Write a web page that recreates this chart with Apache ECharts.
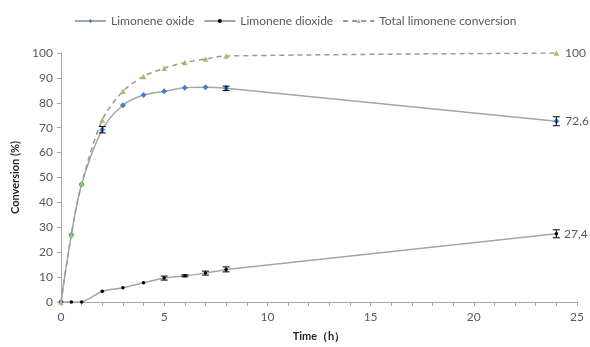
<!DOCTYPE html>
<html><head><meta charset="utf-8">
<script src="https://cdn.jsdelivr.net/npm/echarts@6/dist/echarts.min.js"></script>
<style>html,body{margin:0;padding:0;background:#fff}#c{width:590px;height:347px}</style>
</head><body><div id="c"></div>
<script>
const times = [0, 0.5, 1, 2, 3, 4, 5, 6, 7, 8, 24];
const oxide = [0, 27, 47.3, 69.2, 79, 83.1, 84.6, 86, 86.2, 85.8, 72.6];
const oxideErr = [0, 0, 0, 1.3, 0, 0, 0, 0, 0, 0.9, 1.8];
const dioxide = [0, 0, 0, 4.3, 5.7, 7.7, 9.6, 10.5, 11.6, 13.1, 27.4];
const dioxideErr = [0, 0, 0, 0, 0, 0, 0.8, 0.4, 0.8, 1.0, 1.6];
const total = [0, 27, 47.5, 73.1, 84.6, 90.6, 93.9, 96.2, 97.6, 98.8, 100];
const endLabels = ['72,6', '27,4', '100'];
const xTicks = [0, 5, 10, 15, 20, 25];
const yTicks = [0, 10, 20, 30, 40, 50, 60, 70, 80, 90, 100];

const pair = (ys) => times.map((t, i) => [t, ys[i]]);
const errData = (ys, es) => times.map((t, i) => [t, ys[i], es[i]]).filter(d => d[2] > 0);

function errSeries(ys, es) {
  return {
    type: 'custom', silent: true, z: 5,
    data: errData(ys, es),
    renderItem: function (params, api) {
      const x = api.value(0), y = api.value(1), e = api.value(2);
      const lo = api.coord([x, y - e]), hi = api.coord([x, y + e]);
      const w = 3.5;
      const st = { stroke: '#000', lineWidth: 1 };
      return { type: 'group', children: [
        { type: 'line', shape: { x1: lo[0], y1: lo[1], x2: hi[0], y2: hi[1] }, style: st },
        { type: 'line', shape: { x1: lo[0] - w, y1: lo[1], x2: lo[0] + w, y2: lo[1] }, style: st },
        { type: 'line', shape: { x1: hi[0] - w, y1: hi[1], x2: hi[0] + w, y2: hi[1] }, style: st }
      ]};
    }
  };
}

const lastLabel = (txt) => ({
  show: true, position: 'right', distance: 6, color: '#595959', fontSize: 12,
  fontFamily: 'Lato',
  formatter: (p) => p.dataIndex === times.length - 1 ? txt : ''
});

const chart = echarts.init(document.getElementById('c'));
chart.setOption({
  animation: false,
  textStyle: { fontFamily: 'Lato' },
  legend: {
    top: 10, left: 69, itemWidth: 31, itemHeight: 5, itemGap: 9,
    textStyle: { color: '#595959', fontSize: 12, fontFamily: 'Lato' },
    data: ['Limonene oxide', 'Limonene dioxide', 'Total limonene conversion']
  },
  grid: { left: 61, right: 13, top: 53, bottom: 44 },
  xAxis: {
    type: 'value', min: 0, max: 25, interval: 1,
    name: 'Time（h）', nameLocation: 'middle', nameGap: 29,
    nameTextStyle: { color: '#262626', fontWeight: 'bold', fontSize: 11 },
    axisLine: { lineStyle: { color: '#a6a6a6' } },
    axisTick: { show: true, inside: false, length: 4, lineStyle: { color: '#a6a6a6' } },
    axisLabel: { color: '#595959', fontSize: 12, margin: 9,
      formatter: (v) => xTicks.includes(v) ? String(v) : '' },
    splitLine: { show: false }
  },
  yAxis: {
    type: 'value', min: 0, max: 100, interval: 10,
    name: 'Conversion (%)', nameLocation: 'middle', nameGap: 33,
    nameTextStyle: { color: '#262626', fontWeight: 'bold', fontSize: 11 },
    axisLine: { show: true, lineStyle: { color: '#a6a6a6' } },
    axisTick: { show: true, length: 4, lineStyle: { color: '#a6a6a6' } },
    axisLabel: { color: '#595959', fontSize: 12, margin: 8,
      formatter: (v) => yTicks.includes(v) ? String(v) : '' },
    splitLine: { show: false }
  },
  series: [
    { name: 'Limonene oxide', type: 'line', smooth: 0.3, data: pair(oxide),
      symbol: 'diamond', symbolSize: 6,
      itemStyle: { color: '#3f7fd6' },
      lineStyle: { color: '#a6a6a6', width: 1.5 },
      label: lastLabel(endLabels[0]), z: 3 },
    { name: 'Limonene dioxide', type: 'line', smooth: 0.15, data: pair(dioxide),
      symbol: 'circle', symbolSize: 3.5,
      itemStyle: { color: '#000' },
      lineStyle: { color: '#a6a6a6', width: 1.5 },
      label: lastLabel(endLabels[1]), z: 3 },
    { name: 'Total limonene conversion', type: 'line', smooth: 0.3, data: pair(total),
      symbol: 'triangle', symbolSize: 5.5,
      itemStyle: { color: '#9bc562' },
      lineStyle: { color: '#999999', width: 1.5, type: [5, 4] },
      label: lastLabel(endLabels[2]), z: 4 },
    errSeries(oxide, oxideErr),
    errSeries(dioxide, dioxideErr)
  ]
});
</script></body></html>
